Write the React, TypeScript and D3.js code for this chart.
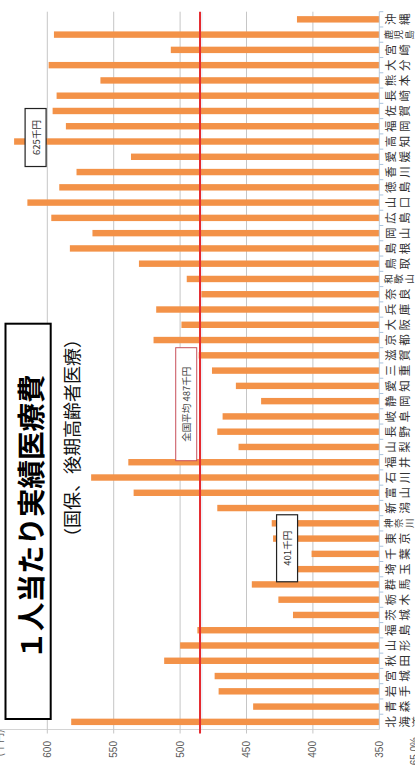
import React from "react";
import * as d3 from "d3";

const prefectures = [
  "北海道","青森","岩手","宮城","秋田","山形","福島","茨城","栃木","群馬",
  "埼玉","千葉","東京","神奈川","新潟","富山","石川","福井","山梨","長野",
  "岐阜","静岡","愛知","三重","滋賀","京都","大阪","兵庫","奈良","和歌山",
  "鳥取","島根","岡山","広島","山口","徳島","香川","愛媛","高知","福岡",
  "佐賀","長崎","熊本","大分","宮崎","鹿児島","沖縄"
];
const costs = [
  582,445,471,474,512,500,487,415,426,446,
  413,401,430,431,472,535,567,539,456,472,
  468,439,458,476,486,520,499,518,484,495,
  531,583,566,597,615,591,578,537,625,586,
  596,593,560,599,507,595,412
];
const valueTicks = [350, 400, 450, 500, 550, 600];
const nationalAverage = 485;
const averageLabel = "全国平均 487千円";
const callouts = [
  { name: "千葉", label: "401千円" },
  { name: "高知", label: "625千円" }
];
const titleText = "１人当たり実績医療費";
const subtitleText = "（国保、後期高齢者医療）";
const unitText = "(千円)";
const stray = "65.0%";

const W = 783;
const CJK = "'Noto Sans CJK JP', 'Noto Sans', sans-serif";
const NUM = "'Liberation Sans', Arial, sans-serif";

export default function App() {
  const x = d3.scaleBand<string>().domain(prefectures).range([53.5, 771.3]).paddingInner(0.58).paddingOuter(0.29);
  const y = d3.scaleLinear().domain([350, 600]).range([379.3, 47.3]);
  const step = x.step();
  const x0 = x.range()[0];
  const x1 = x.range()[1];
  const base = y(350);
  const avgY = y(nationalAverage);

  return (
    <svg width={415} height={783} style={{ position: "absolute", left: 0, top: 0, background: "#fff" }}>
      <rect x={0} y={0} width={415} height={783} fill="#fff" />
      <g transform={`translate(0,${W}) rotate(-90)`}>
        <line x1={x0} x2={x0} y1={-25} y2={base} stroke="#d4d4d4" strokeWidth={1} />
        {valueTicks.filter((t) => t > 350).map((t) => (
          <line key={"g" + t} x1={x0 - 4} x2={x1} y1={y(t)} y2={y(t)} stroke="#c6c6c6" strokeWidth={1} />
        ))}
        <line x1={x0} x2={x1} y1={y(483.5)} y2={y(483.5)} stroke="#e3edf7" strokeWidth={1} />
        {valueTicks.map((t) => (
          <text key={"t" + t} x={42} y={y(t)} textAnchor="end" dominantBaseline="central" fontSize={10} fill="#595959" fontFamily={NUM}>
            {t}
          </text>
        ))}
        <text x={40} y={3} textAnchor="middle" fontSize={10} fill="#595959" fontFamily={CJK}>{unitText}</text>
        <text x={46} y={418} textAnchor="end" fontSize={10} fill="#595959" fontFamily={NUM}>{stray}</text>
        {prefectures.map((p, i) => (
          <rect key={p} x={x(p)} y={y(costs[i])} width={x.bandwidth()} height={base - y(costs[i])} fill="#F39248" />
        ))}
        <line x1={x0} x2={x1} y1={base} y2={base} stroke="#b9cadb" strokeWidth={1} />
        {prefectures.map((p, i) => (
          <line key={"ct" + p} x1={x0 + step * (i + 1)} x2={x0 + step * (i + 1)} y1={base} y2={base + 4} stroke="#a9c3de" strokeWidth={1} />
        ))}
        {prefectures.map((p) => {
          const chars = Array.from(p);
          const small = chars.length > 2 && p !== "北海道";
          const fs = small ? 9.5 : 11.5;
          const sp = small ? 10.3 : 13.5;
          const start = small ? 388 : 390;
          const cx = (x(p) as number) + x.bandwidth() / 2;
          return chars.map((c, k) => (
            <text key={p + k} x={cx} y={start + k * sp} textAnchor="middle" dominantBaseline="central" fontSize={fs} fill="#333" fontFamily={CJK}>
              {c}
            </text>
          ));
        })}
        <line x1={x0 - 4} x2={x1} y1={avgY} y2={avgY} stroke="#e52a2f" strokeWidth={2} />
        <rect x={322.3} y={avgY - 24.3} width={113} height={21} fill="#fff" stroke="#c8505a" strokeWidth={1} />
        <text x={378.8} y={avgY - 13.8} textAnchor="middle" dominantBaseline="central" fontSize={9.5} fill="#444" fontFamily={CJK}>
          {averageLabel}
        </text>
        {callouts.map((c) => {
          const i = prefectures.indexOf(c.name);
          const cx = (x(c.name) as number) + x.bandwidth() / 2;
          const top = y(costs[i]);
          const low = c.name === "千葉";
          const bw = low ? 67 : 58;
          const bx = cx + (low ? 5.6 : 4) - bw / 2;
          const by = low ? top - 35 : top + 11;
          return (
            <g key={c.name}>
              <rect x={bx} y={by} width={bw} height={21} fill="#fff" stroke="#222" strokeWidth={1.2} />
              <text x={bx + bw / 2} y={by + 10.5} textAnchor="middle" dominantBaseline="central" fontSize={9.5} fill="#333" fontFamily={CJK}>
                {c.label}
              </text>
            </g>
          );
        })}
        <rect x={64} y={5.5} width={395.3} height={45.2} fill="#fff" stroke="#000" strokeWidth={2} />
        <text x={266} y={29} textAnchor="middle" dominantBaseline="central" fontSize={28.5} fontWeight={700} fill="#000" fontFamily={CJK}>
          {titleText}
        </text>
        <text x={237} y={71} textAnchor="start" dominantBaseline="central" fontSize={18} fill="#111" fontFamily={CJK}>
          {subtitleText}
        </text>
      </g>
    </svg>
  );
}
